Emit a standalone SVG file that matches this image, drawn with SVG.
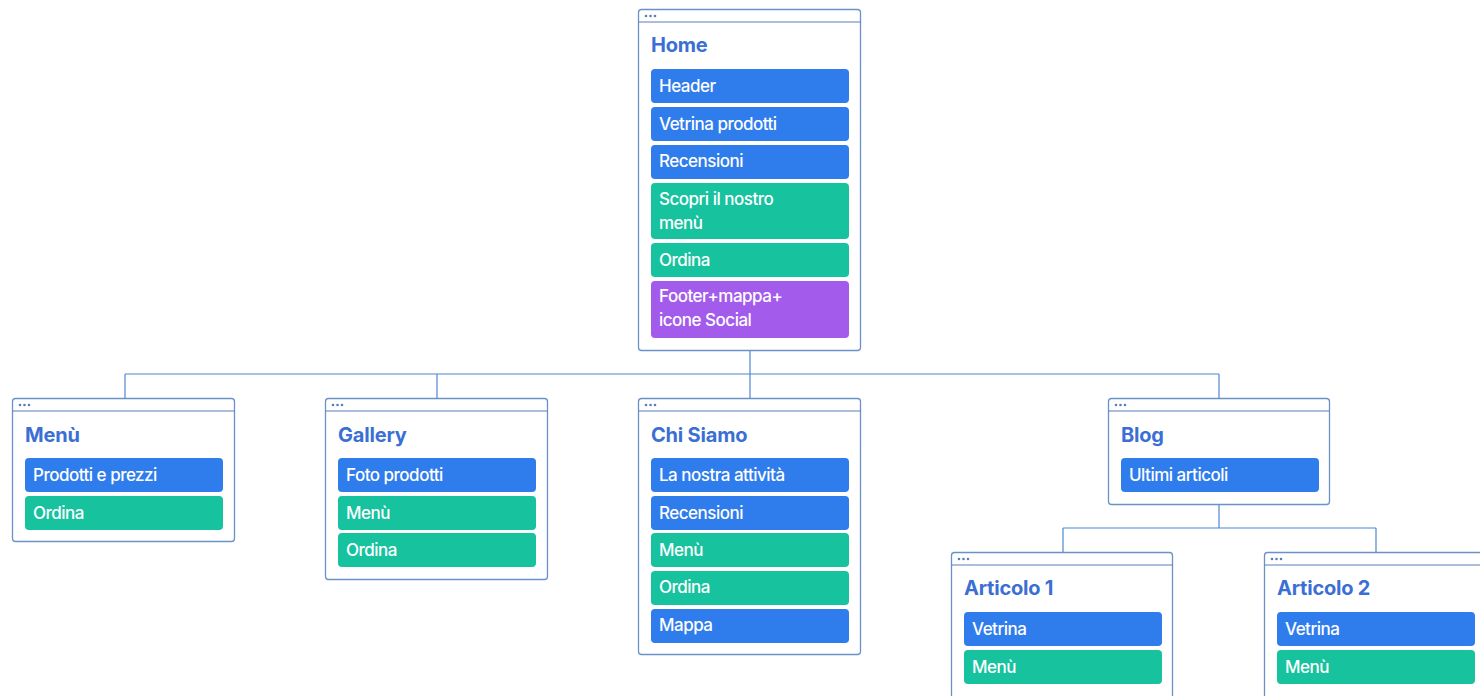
<svg xmlns="http://www.w3.org/2000/svg" width="1480" height="696" viewBox="0 0 1480 696">
<style>
.box{fill:#fff;stroke:#6a92c8;stroke-width:1.3}
.bar{stroke:#5a7fb8;stroke-width:1.2}
.dot{fill:#5a7fb8}
.title{font-family:Inter,"Liberation Sans",sans-serif;font-size:20px;font-weight:700;fill:#3b6fd4;letter-spacing:-0.2px}
.it{font-family:Inter,"Liberation Sans",sans-serif;font-size:17px;font-weight:500;fill:#fff;letter-spacing:-0.5px}
.b{fill:#2f7cec}
.g{fill:#17c29f}
.p{fill:#a35bec}
.conn{fill:none;stroke:#4d87d4;stroke-width:1.2}
</style>
<defs>
<g id="dots"><circle cx="0" cy="0" r="1.3" class="dot"/><circle cx="4.5" cy="0" r="1.3" class="dot"/><circle cx="9" cy="0" r="1.3" class="dot"/></g>
</defs>
<rect width="1480" height="696" fill="#fff"/>
<g id="connectors">
<path class="conn" d="M750 351V374M125 374H1219M125 374V398M437 374V398M750 374V398M1219 374V398"/>
<path class="conn" d="M1219 505V528M1063 528H1376M1063 528V552M1376 528V552"/>
</g>
<g id="home">
<rect class="box" x="638.5" y="9.5" width="222" height="341" rx="3"/>
<line class="bar" x1="638.5" y1="22" x2="860.5" y2="22"/>
<use href="#dots" x="646" y="16"/>
<text class="title" x="651" y="52">Home</text>
<rect class="b" x="651" y="69" width="198" height="34" rx="4"/><text class="it" x="659" y="92">Header</text>
<rect class="b" x="651" y="107" width="198" height="34" rx="4"/><text class="it" x="659" y="130">Vetrina prodotti</text>
<rect class="b" x="651" y="145" width="198" height="34" rx="4"/><text class="it" x="659" y="167">Recensioni</text>
<rect class="g" x="651" y="183" width="198" height="56" rx="4"/><text class="it" x="659" y="205">Scopri il nostro</text><text class="it" x="659" y="229">menù</text>
<rect class="g" x="651" y="243" width="198" height="34" rx="4"/><text class="it" x="659" y="266">Ordina</text>
<rect class="p" x="651" y="281" width="198" height="57" rx="4"/><text class="it" x="659" y="302">Footer+mappa+</text><text class="it" x="659" y="326">icone Social</text>
</g>
<g id="menu">
<rect class="box" x="12.5" y="398.5" width="222" height="143" rx="3"/>
<line class="bar" x1="12.5" y1="411" x2="234.5" y2="411"/>
<use href="#dots" x="20" y="405"/>
<text class="title" x="25" y="442">Menù</text>
<rect class="b" x="25" y="458" width="198" height="34" rx="4"/><text class="it" x="33" y="481">Prodotti e prezzi</text>
<rect class="g" x="25" y="496" width="198" height="34" rx="4"/><text class="it" x="33" y="519">Ordina</text>
</g>
<g id="gallery">
<rect class="box" x="325.5" y="398.5" width="222" height="181" rx="3"/>
<line class="bar" x1="325.5" y1="411" x2="547.5" y2="411"/>
<use href="#dots" x="333" y="405"/>
<text class="title" x="338" y="442">Gallery</text>
<rect class="b" x="338" y="458" width="198" height="34" rx="4"/><text class="it" x="346" y="481">Foto prodotti</text>
<rect class="g" x="338" y="496" width="198" height="34" rx="4"/><text class="it" x="346" y="519">Menù</text>
<rect class="g" x="338" y="533" width="198" height="34" rx="4"/><text class="it" x="346" y="556">Ordina</text>
</g>
<g id="chisiamo">
<rect class="box" x="638.5" y="398.5" width="222" height="256" rx="3"/>
<line class="bar" x1="638.5" y1="411" x2="860.5" y2="411"/>
<use href="#dots" x="646" y="405"/>
<text class="title" x="651" y="442">Chi Siamo</text>
<rect class="b" x="651" y="458" width="198" height="34" rx="4"/><text class="it" x="659" y="481">La nostra attività</text>
<rect class="b" x="651" y="496" width="198" height="34" rx="4"/><text class="it" x="659" y="519">Recensioni</text>
<rect class="g" x="651" y="533" width="198" height="34" rx="4"/><text class="it" x="659" y="556">Menù</text>
<rect class="g" x="651" y="571" width="198" height="34" rx="4"/><text class="it" x="659" y="593">Ordina</text>
<rect class="b" x="651" y="609" width="198" height="34" rx="4"/><text class="it" x="659" y="631">Mappa</text>
</g>
<g id="blog">
<rect class="box" x="1108.5" y="398.5" width="221" height="106" rx="3"/>
<line class="bar" x1="1108.5" y1="411" x2="1329.5" y2="411"/>
<use href="#dots" x="1116" y="405"/>
<text class="title" x="1121" y="442">Blog</text>
<rect class="b" x="1121" y="458" width="198" height="34" rx="4"/><text class="it" x="1129" y="481">Ultimi articoli</text>
</g>
<g id="articolo1">
<rect class="box" x="951.5" y="552.5" width="221" height="150" rx="3"/>
<line class="bar" x1="951.5" y1="565" x2="1172.5" y2="565"/>
<use href="#dots" x="959" y="559"/>
<text class="title" x="964" y="595">Articolo 1</text>
<rect class="b" x="964" y="612" width="198" height="34" rx="4"/><text class="it" x="972" y="635">Vetrina</text>
<rect class="g" x="964" y="650" width="198" height="34" rx="4"/><text class="it" x="972" y="673">Menù</text>
</g>
<g id="articolo2">
<rect class="box" x="1264.5" y="552.5" width="222" height="150" rx="3"/>
<line class="bar" x1="1264.5" y1="565" x2="1486.5" y2="565"/>
<use href="#dots" x="1272" y="559"/>
<text class="title" x="1277" y="595">Articolo 2</text>
<rect class="b" x="1277" y="612" width="198" height="34" rx="4"/><text class="it" x="1285" y="635">Vetrina</text>
<rect class="g" x="1277" y="650" width="198" height="34" rx="4"/><text class="it" x="1285" y="673">Menù</text>
</g>
</svg>
